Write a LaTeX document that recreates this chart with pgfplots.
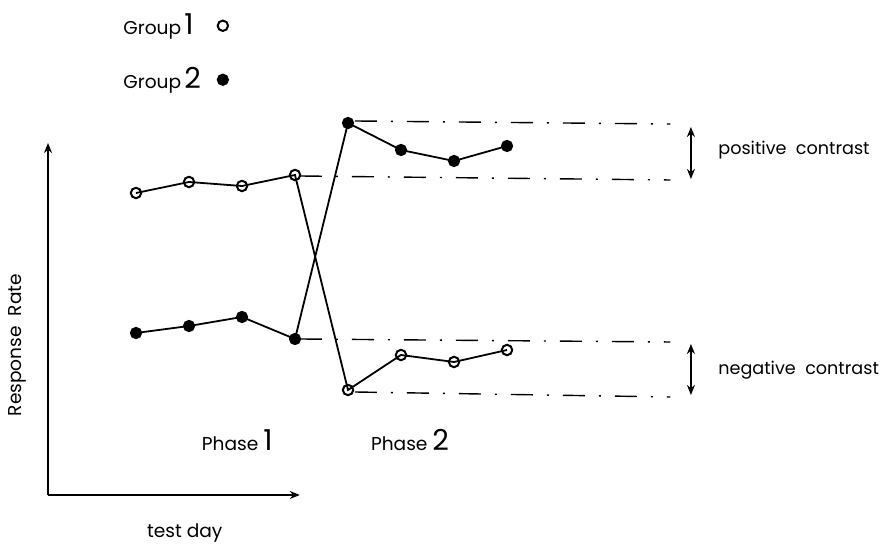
\documentclass[border=0pt]{standalone}
\usepackage{pgfplots}
\pgfplotsset{compat=1.18}
\usetikzlibrary{arrows.meta}
\usepackage{fontspec}
\setmainfont{Poppins}

\pgfplotsset{
  refline/.style={black, line width=0.7pt,
      dash pattern=on 11pt off 7pt on 1pt off 7pt, forget plot, no marks},
}

% response rate per test day (arbitrary units)
\pgfplotstableread{
day g1   g2
1   30.2 16.2
2   31.3 16.9
3   30.9 17.8
4   32.0 15.6
5   10.5 37.2
6   14.0 34.5
7   13.3 33.4
8   14.5 34.9
}\rates

\begin{document}
\begin{tikzpicture}[font=\fontsize{9.3}{11}\selectfont,
    arr/.style={line width=0.8pt}]
  \begin{axis}[
      scale only axis,
      width=441.5pt, height=272.5pt,
      xmin=-1.566, xmax=15.094,
      ymin=-5, ymax=49.5,
      hide axis, clip=false,
      legend plot pos=right,
      legend cell align=left,
      legend style={
          at={(0.128,0.99)}, anchor=north west,
          draw=none, fill=none, row sep=11pt,
          font=\fontsize{9.3}{11}\selectfont
      },
      legend image code/.code={
          \path (0cm,0cm);
          \draw[#1, only marks] plot coordinates {(0.3cm,0cm)};
      },
    ]
    \addplot[black, line width=0.9pt, mark=o, mark size=2.6pt,
             mark options={fill=white, solid, line width=1pt}]
      table[x=day, y=g1] {\rates};
    \addlegendentry{Group\,{\Large 1}}
    \addplot[black, line width=0.9pt, mark=*, mark size=2.6pt,
             mark options={solid}]
      table[x=day, y=g2] {\rates};
    \addlegendentry{Group\,{\Large 2}}

    % reference levels
    \addplot[refline] coordinates {(5.13,37.4) (11.08,37.1)};
    \addplot[refline] coordinates {(4.09,31.9) (11.08,31.5)};
    \addplot[refline] coordinates {(4.09,15.6) (11.08,15.3)};
    \addplot[refline] coordinates {(5.13,10.3) (11.08,9.8)};

    % axes
    \draw[arr, -{Stealth[length=5pt,width=4pt]}]
      (axis cs:-0.66,0) -- (axis cs:-0.66,35.2);
    \draw[arr, -{Stealth[length=5pt,width=4pt]}]
      (axis cs:-0.66,0) -- (axis cs:4.09,0);

    % contrast arrows
    \draw[arr, {Stealth[length=5pt,width=4pt]}-{Stealth[length=5pt,width=4pt]}]
      (axis cs:11.47,36.8) -- (axis cs:11.47,31.6);
    \draw[arr, {Stealth[length=5pt,width=4pt]}-{Stealth[length=5pt,width=4pt]}]
      (axis cs:11.47,15.1) -- (axis cs:11.47,10.0);

    \node[anchor=west, inner sep=0pt, font=\fontsize{8.8}{10}\selectfont]
      at (axis cs:11.98,34.5) {positive\ \ contrast};
    \node[anchor=west, inner sep=0pt, font=\fontsize{8.8}{10}\selectfont]
      at (axis cs:11.98,12.5) {negative\ \ contrast};
    \node at (axis cs:2.91,5.5) {Phase\ {\Large 1}};
    \node at (axis cs:6.17,5.5) {Phase\ {\Large 2}};
    \node at (axis cs:1.92,-3.8) {test day};
    \node[rotate=90] at (axis cs:-1.23,15) {Response\ \ Rate};
  \end{axis}
  \pgfresetboundingbox
  \path (current axis.south west) rectangle (current axis.north east);
\end{tikzpicture}
\end{document}
